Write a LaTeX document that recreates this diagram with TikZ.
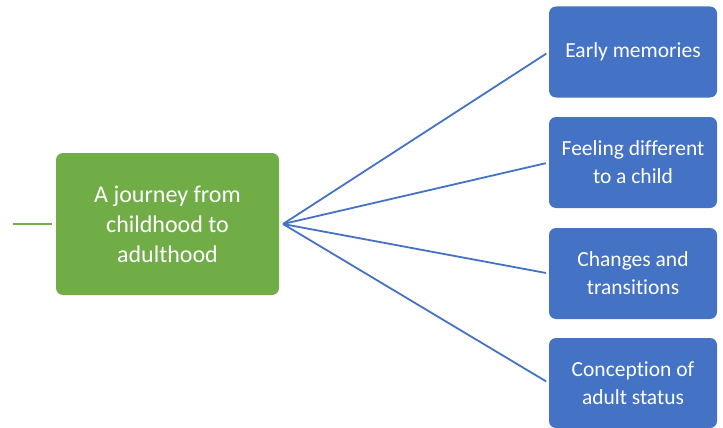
\documentclass[tikz,border=0pt]{standalone}
\usepackage{fontspec}
\setmainfont[Ligatures=NoCommon]{Carlito}
\definecolor{mapgreen}{HTML}{70AD47}
\definecolor{mapblue}{HTML}{4472C4}
\begin{document}
\begin{tikzpicture}[x=1pt,y=-1pt,
  rootbox/.style={fill=mapgreen, rounded corners=7pt, text=white, align=center,
    minimum width=223pt, minimum height=142pt, inner sep=0pt,
    font=\fontsize{24}{30}\selectfont},
  leafbox/.style={fill=mapblue, rounded corners=7pt, text=white, align=center,
    minimum width=168pt, minimum height=91pt, inner sep=0pt,
    font=\fontsize{21.5}{28}\selectfont},
  branch/.style={draw=mapblue, line width=1.8pt, shorten >=3pt},
  stem/.style={draw=mapgreen, line width=1.8pt}]
\useasboundingbox (0,0) rectangle (723,428);
% central topic
\node[rootbox] (root) at (167.5,224) {A journey from\\childhood to\\adulthood};
\coordinate (hub) at (283,224);
\coordinate (stemend) at (13,224);
\draw[stem] (stemend) -- ([xshift=-4pt]root.west);
% subtopics
\node[leafbox] (t1) at (633,52) {Early memories};
\node[leafbox] (t2) at (633,162.5) {Feeling different\\to a child};
\node[leafbox] (t3) at (633,273.5) {Changes and\\transitions};
\node[leafbox, minimum height=90pt] (t4) at (633,383) {Conception of\\adult status};
\foreach \t in {t1,t2,t3,t4} \draw[branch] (hub) -- (\t.west);
\end{tikzpicture}
\end{document}
